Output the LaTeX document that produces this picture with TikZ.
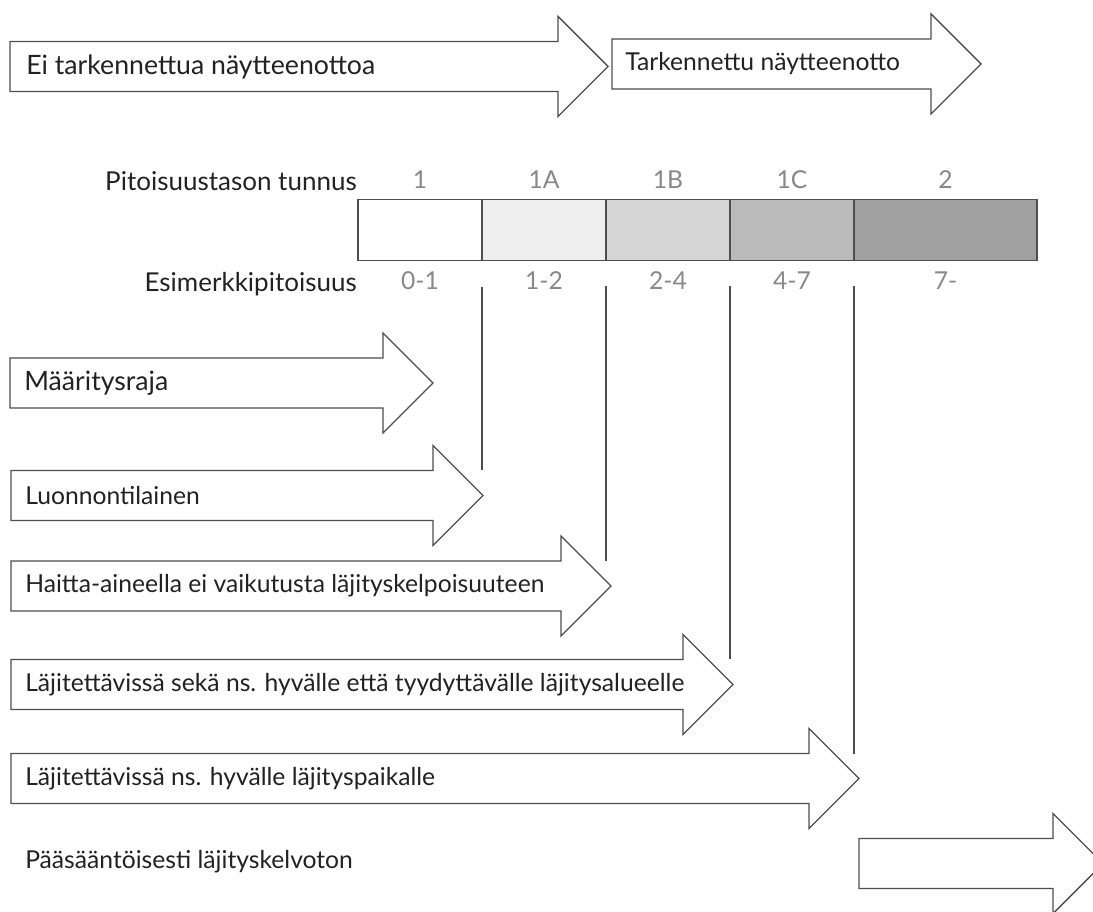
\documentclass[tikz,border=0pt]{standalone}
\usepackage{fontspec}
\setmainfont{Lato}
\usetikzlibrary{positioning}

\definecolor{edgegray}{HTML}{4E4E4E}
\definecolor{txtdark}{HTML}{222222}
\definecolor{txtgray}{HTML}{888888}
\definecolor{lev1}{HTML}{FFFFFF}
\definecolor{lev1a}{HTML}{EFEFEF}
\definecolor{lev1b}{HTML}{D6D6D6}
\definecolor{lev1c}{HTML}{BABABA}
\definecolor{lev2}{HTML}{A0A0A0}

% big outlined arrow: name, left x, head base x, centre y
\newcommand{\bigarrow}[4]{%
  \draw[bigArr] (#2,#4-25) -- (#3,#4-25) -- (#3,#4-50) -- (#3+50,#4)
        -- (#3,#4+50) -- (#3,#4+25) -- (#2,#4+25) -- cycle;
  \coordinate (#1-tip) at (#3+50,#4);
  \coordinate (#1-top) at (#3+50,#4-25);
}

\begin{document}
\begin{tikzpicture}[x=0.75pt, y=-0.75pt,
                    bigArr/.style={draw=edgegray,
                                   line width=1.05pt,
                                   fill=white,
                                   line join=miter},
                    arrTxt/.style={anchor=west,
                                   inner sep=0pt,
                                   text=txtdark,
                                   font=\fontsize{18.5}{20}\selectfont},
                    rowTxt/.style={anchor=east,
                                   inner sep=0pt,
                                   text=txtdark,
                                   font=\fontsize{19.5}{21}\selectfont},
                    levTxt/.style={inner sep=0pt,
                                   text=txtgray,
                                   font=\fontsize{18.5}{20}\selectfont},
                    cellND/.style={draw=edgegray,
                                   line width=1.1pt,
                                   minimum height=45.75pt,
                                   inner sep=0pt,
                                   outer sep=0pt},
                    tickLn/.style={draw=edgegray, line width=0.8pt}]
    \useasboundingbox (0,0) rectangle (1093,912);
    \clip (0,0) rectangle (1093,912);

    % sampling arrows
    \bigarrow{ei}{10}{558}{66.5}
    \bigarrow{tark}{612}{931}{64}
    \node[arrTxt, font=\fontsize{20}{22}\selectfont](tEi) at (26,66.5) {Ei tarkennettua näytteenottoa};
    \node[arrTxt](tTark) at (625,64) {Tarkennettu näytteenotto};

    % level bar
    \node[cellND, fill=lev1,  minimum width=93pt]     (c1) at (420,230)   {};
    \node[cellND, fill=lev1a, minimum width=93pt]     (c2) at (544,230)   {};
    \node[cellND, fill=lev1b, minimum width=93pt]     (c3) at (668,230)   {};
    \node[cellND, fill=lev1c, minimum width=93pt]     (c4) at (792,230)   {};
    \node[cellND, fill=lev2,  minimum width=137.25pt] (c5) at (945.5,230) {};

    \node[rowTxt](tTunnus) at (357,181) {Pitoisuustason tunnus};
    \node[rowTxt](tEsim)   at (357,284) {Esimerkkipitoisuus};

    \node[levTxt](k1)  at (420,180)   {1};
    \node[levTxt](k1a) at (544,180)   {1A};
    \node[levTxt](k1b) at (668,180)   {1B};
    \node[levTxt](k1c) at (792,180)   {1C};
    \node[levTxt](k2)  at (945.5,180) {2};

    \node[levTxt](v1)  at (420,281)   {0-1};
    \node[levTxt](v1a) at (544,281)   {1-2};
    \node[levTxt](v1b) at (668,281)   {2-4};
    \node[levTxt](v1c) at (792,281)   {4-7};
    \node[levTxt](v2)  at (945.5,281) {7-};

    % class arrows
    \bigarrow{maar}{10}{383}{383}
    \bigarrow{luon}{11}{433}{495.5}
    \bigarrow{hait}{11}{561}{586}
    \bigarrow{seka}{11}{683}{684.5}
    \bigarrow{hyva}{11}{809}{778.5}
    \bigarrow{kelv}{859}{1053}{863.5}

    \node[arrTxt, font=\fontsize{20}{22}\selectfont](tMaar) at (24,383) {Määritysraja};
    \node[arrTxt](tLuon) at (25,495.5) {Luonnontilainen};
    \node[arrTxt](tHait) at (25,586)   {Haitta-aineella ei vaikutusta läjityskelpoisuuteen};
    \node[arrTxt](tSeka) at (25,684.5) {Läjitettävissä sekä ns. hyvälle että tyydyttävälle läjitysalueelle};
    \node[arrTxt](tHyva) at (25,778.5) {Läjitettävissä ns. hyvälle läjityspaikalle};
    \node[arrTxt](tKelv) at (25,862)   {Pääsääntöisesti läjityskelvoton};

    % limits from the bar down to the arrow tips
    \coordinate (g1) at (c1.south east |- 0,287);
    \coordinate (g2) at (c2.south east |- 0,286);
    \coordinate (g3) at (c3.south east |- 0,286);
    \coordinate (g4) at (c4.south east |- 0,286);
    \path[tickLn]
        (g1) edge (g1 |- luon-top)
        (g2) edge (g2 |- hait-top)
        (g3) edge (g3 |- seka-top)
        (g4) edge (g4 |- hyva-top);
\end{tikzpicture}
\end{document}
